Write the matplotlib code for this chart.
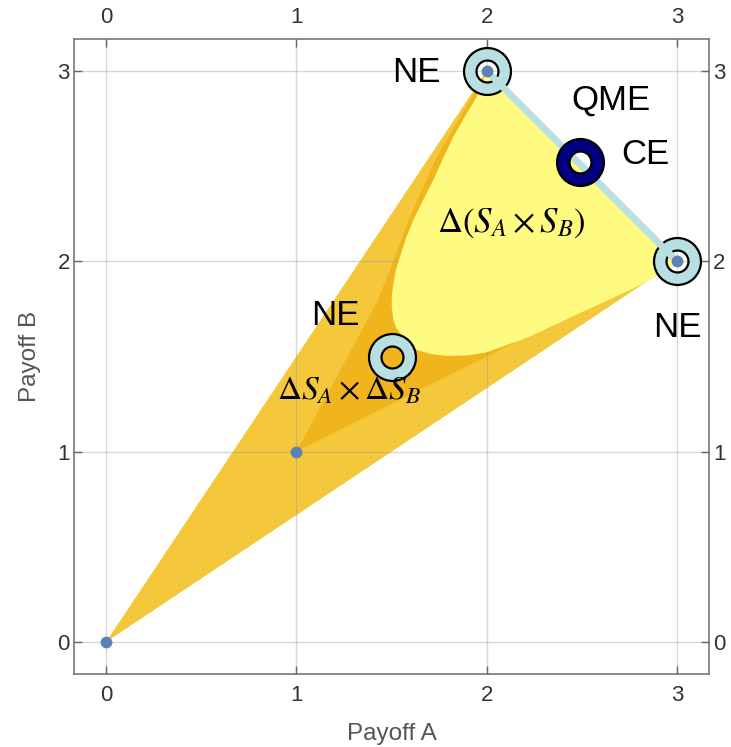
import numpy as np
import matplotlib.pyplot as plt

plt.rcParams['font.family'] = ['Liberation Sans', 'DejaVu Sans']
plt.rcParams['mathtext.fontset'] = 'stix'

# pure strategy payoffs (A, B)
pure_a = [0, 1, 2, 3]
pure_b = [0, 1, 3, 2]

# convex hull of payoffs = Delta(S_A x S_B)
hull_a = [0, 2, 3]
hull_b = [0, 3, 2]

# region covered twice by product strategies
fold_a = [1, 1.421, 1.492, 1.597, 1.738, 1.913, 2, 3]
fold_b = [1, 1.781, 1.955, 2.235, 2.550, 2.848, 3, 2]

# part of the hull not reachable with product strategies
gap_a = [2, 1.948, 1.885, 1.825, 1.770, 1.720, 1.665, 1.615, 1.575, 1.545,
         1.522, 1.510, 1.502, 1.501, 1.510, 1.525, 1.545, 1.585, 1.633,
         1.703, 1.790, 1.895, 2.001, 2.228, 2.491, 2.754, 2.894, 3]
gap_b = [3, 2.866, 2.760, 2.655, 2.540, 2.428, 2.320, 2.218, 2.120, 2.025,
         1.950, 1.885, 1.820, 1.762, 1.692, 1.650, 1.622, 1.572, 1.534,
         1.514, 1.503, 1.505, 1.522, 1.605, 1.729, 1.850, 1.920, 2]

# equilibria
ne_a = [2, 3, 1.5]
ne_b = [3, 2, 1.5]
ce_a = [2, 3]
ce_b = [3, 2]
qme_a = [2.49]
qme_b = [2.52]

ticks = [0, 1, 2, 3]

fig = plt.figure(figsize=(7.31, 7.47), dpi=100)
ax = fig.add_axes([0.1012, 0.0977, 0.8688, 0.8501])

ax.fill(hull_a, hull_b, color='#F5C83C', lw=0, zorder=1)
ax.fill(fold_a, fold_b, color='#F0B41C', lw=0, zorder=2)
ax.fill(gap_a, gap_b, color='#FFFB80', lw=0, zorder=3)

ax.grid(True, color='#999999', alpha=0.4, lw=1, zorder=4)
ax.set_axisbelow(False)

# NE rings
ax.plot(ne_a, ne_b, 'o', ms=24.8, mfc='none', mec='#B8DFE2', mew=9, zorder=5)
ax.plot(ne_a, ne_b, 'o', ms=33.8, mfc='none', mec='black', mew=1.6, zorder=5)
ax.plot(ne_a, ne_b, 'o', ms=15.8, mfc='none', mec='black', mew=1.6, zorder=5)

# CE segment
ax.plot(ce_a, ce_b, '-', color='#B8DFE2', lw=5, zorder=6, solid_capstyle='butt')

# QME / CE ring
ax.plot(qme_a, qme_b, 'o', ms=24.8, mfc='none', mec='#000080', mew=9, zorder=7)
ax.plot(qme_a, qme_b, 'o', ms=33.8, mfc='none', mec='black', mew=1.6, zorder=7)
ax.plot(qme_a, qme_b, 'o', ms=15.8, mfc='none', mec='black', mew=1.6, zorder=7)

ax.plot(pure_a, pure_b, 'o', ms=8.5, color='#5E81B5', mew=0, zorder=8)

ax.text(1.755, 2.99, 'NE', fontsize=25, ha='right', va='center', zorder=9)
ax.text(2.651, 2.845, 'QME', fontsize=25, ha='center', va='center', zorder=9)
ax.text(2.706, 2.562, 'CE', fontsize=25, ha='left', va='center', zorder=9)
ax.text(3.0, 1.653, 'NE', fontsize=25, ha='center', va='center', zorder=9)
ax.text(1.205, 1.718, 'NE', fontsize=25, ha='center', va='center', zorder=9)
ax.text(2.128, 2.2, r'$\Delta(S_A\times S_B)$', fontsize=25, ha='center', va='center', zorder=9)
ax.text(1.277, 1.32, r'$\Delta S_A\times\Delta S_B$', fontsize=24, ha='center', va='center', zorder=9)

ax.set_xlim(-0.168, 3.168)
ax.set_ylim(-0.168, 3.168)
ax.set_xticks(ticks)
ax.set_yticks(ticks)
ax.tick_params(direction='in', length=6, width=1, color='#666666', labelsize=16,
               labelcolor='#333333', top=True, right=True, labeltop=True, labelright=True)
ax.tick_params(axis='x', pad=8)
ax.tick_params(axis='y', pad=3)
for s in ax.spines.values():
    s.set_color('#777777')
    s.set_linewidth(1.2)

ax.set_xlabel('Payoff A', fontsize=17.5, color='#555555', labelpad=12)
ax.set_ylabel('Payoff B', fontsize=17.5, color='#555555', labelpad=12)

fig.savefig('out.png', dpi=100)
